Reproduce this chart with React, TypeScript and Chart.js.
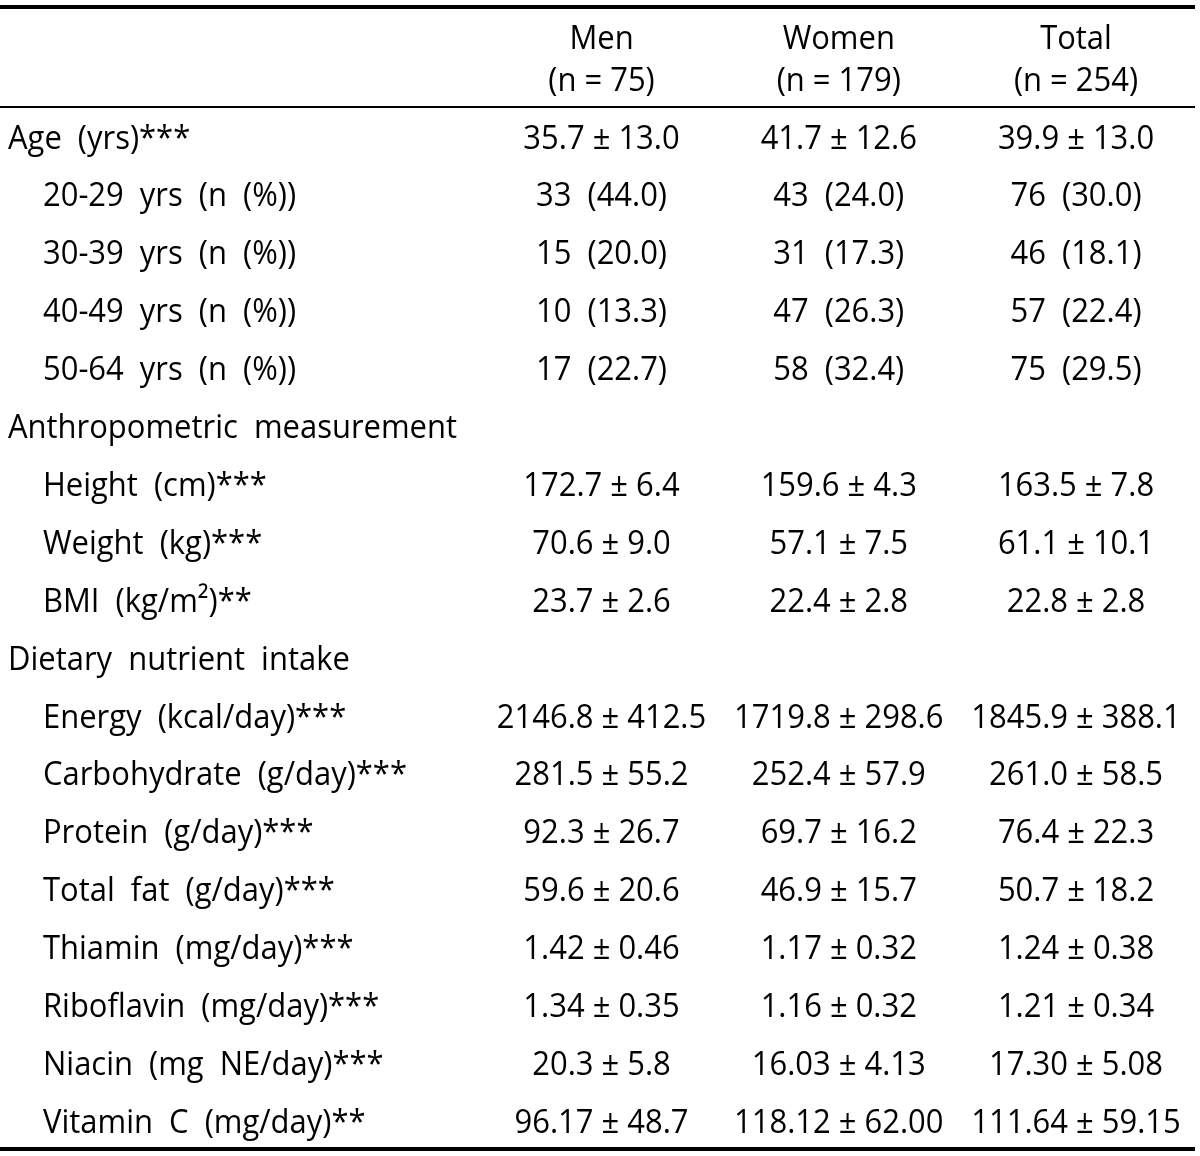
import React, { useEffect, useRef } from "react";
import { Chart, registerables } from "chart.js";

Chart.register(...registerables);

// ---- Data ----
const columnNames = ["Men", "Women", "Total"];
const columnCounts = ["(n = 75)", "(n = 179)", "(n = 254)"];

const rowLabels = [
  "Age  (yrs)***",
  "20-29  yrs  (n  (%))",
  "30-39  yrs  (n  (%))",
  "40-49  yrs  (n  (%))",
  "50-64  yrs  (n  (%))",
  "Anthropometric  measurement",
  "Height  (cm)***",
  "Weight  (kg)***",
  "BMI  (kg/m²)**",
  "Dietary  nutrient  intake",
  "Energy  (kcal/day)***",
  "Carbohydrate  (g/day)***",
  "Protein  (g/day)***",
  "Total  fat  (g/day)***",
  "Thiamin  (mg/day)***",
  "Riboflavin  (mg/day)***",
  "Niacin  (mg  NE/day)***",
  "Vitamin  C  (mg/day)**",
];

const topLevelRows = ["Age  (yrs)***", "Anthropometric  measurement", "Dietary  nutrient  intake"];

const menValues = [
  "35.7 ± 13.0", "33  (44.0)", "15  (20.0)", "10  (13.3)", "17  (22.7)",
  "", "172.7 ± 6.4", "70.6 ± 9.0", "23.7 ± 2.6",
  "", "2146.8 ± 412.5", "281.5 ± 55.2", "92.3 ± 26.7", "59.6 ± 20.6",
  "1.42 ± 0.46", "1.34 ± 0.35", "20.3 ± 5.8", "96.17 ± 48.7",
];
const womenValues = [
  "41.7 ± 12.6", "43  (24.0)", "31  (17.3)", "47  (26.3)", "58  (32.4)",
  "", "159.6 ± 4.3", "57.1 ± 7.5", "22.4 ± 2.8",
  "", "1719.8 ± 298.6", "252.4 ± 57.9", "69.7 ± 16.2", "46.9 ± 15.7",
  "1.17 ± 0.32", "1.16 ± 0.32", "16.03 ± 4.13", "118.12 ± 62.00",
];
const totalValues = [
  "39.9 ± 13.0", "76  (30.0)", "46  (18.1)", "57  (22.4)", "75  (29.5)",
  "", "163.5 ± 7.8", "61.1 ± 10.1", "22.8 ± 2.8",
  "", "1845.9 ± 388.1", "261.0 ± 58.5", "76.4 ± 22.3", "50.7 ± 18.2",
  "1.24 ± 0.38", "1.21 ± 0.34", "17.30 ± 5.08", "111.64 ± 59.15",
];

const W = 1200;
const H = 1156;
const FONT_SIZE = 33;
const FONT = `${FONT_SIZE}px "Open Sans", "Noto Sans", sans-serif`;

const tablePlugin = {
  id: "tableText",
  afterDraw(chart: any) {
    const { ctx, scales } = chart;
    const x = scales.x;
    const y = scales.y;
    ctx.save();
    ctx.fillStyle = "#000";
    ctx.font = FONT;
    ctx.textBaseline = "alphabetic";
    const ref = ctx.measureText("Anthropometric  measurement").width;
    const sx = 449 / ref;

    const draw = (s: string, px: number, py: number, align: "left" | "center") => {
      if (!s) return;
      const w = ctx.measureText(s).width * sx;
      const left = align === "center" ? px - w / 2 : px;
      ctx.save();
      ctx.translate(left, py);
      ctx.scale(sx, 1);
      ctx.textAlign = "left";
      ctx.fillText(s, 0, 0);
      ctx.restore();
    };

    // rules
    const xl = x.getPixelForValue(x.min);
    const xr = 1195;
    const rule = (v: number, t: number) => {
      const py = y.getPixelForValue(v);
      ctx.fillRect(xl, Math.round(py - t / 2), xr - xl, t);
    };
    rule(-2.444, 4);
    rule(-0.712, 2);
    rule(17.28, 4);

    // header
    columnNames.forEach((n, i) => {
      draw(n, x.getPixelForValue(i + 1), y.getPixelForValue(-1.718), "center");
      draw(columnCounts[i], x.getPixelForValue(i + 1), y.getPixelForValue(-1.0), "center");
    });

    // body
    rowLabels.forEach((lab, r) => {
      const py = y.getPixelForValue(r);
      const indent = topLevelRows.includes(lab) ? 8 : 43;
      draw(lab, xl + indent, py, "left");
      draw(menValues[r], x.getPixelForValue(1), py, "center");
      draw(womenValues[r], x.getPixelForValue(2), py, "center");
      draw(totalValues[r], x.getPixelForValue(3), py, "center");
    });
    ctx.restore();
  },
};

export default function App() {
  const ref = useRef<HTMLCanvasElement | null>(null);
  useEffect(() => {
    document.body.style.margin = "0";
    const canvas = ref.current!;
    const chart = new Chart(canvas, {
      type: "scatter",
      data: { datasets: [{ data: [] }] },
      options: {
        animation: false,
        responsive: false,
        devicePixelRatio: 1,
        layout: { padding: 0 },
        plugins: { legend: { display: false }, tooltip: { enabled: false } },
        scales: {
          x: { type: "linear", display: false, min: -1.5353, max: 3.5226 },
          y: { type: "linear", display: false, reverse: true, min: -2.5648, max: 17.4007 },
        },
      },
      plugins: [tablePlugin],
    });
    return () => chart.destroy();
  }, []);
  return (
    <div style={{ width: W, height: H, background: "#fff" }}>
      <canvas ref={ref} width={W} height={H} style={{ display: "block" }} />
    </div>
  );
}
